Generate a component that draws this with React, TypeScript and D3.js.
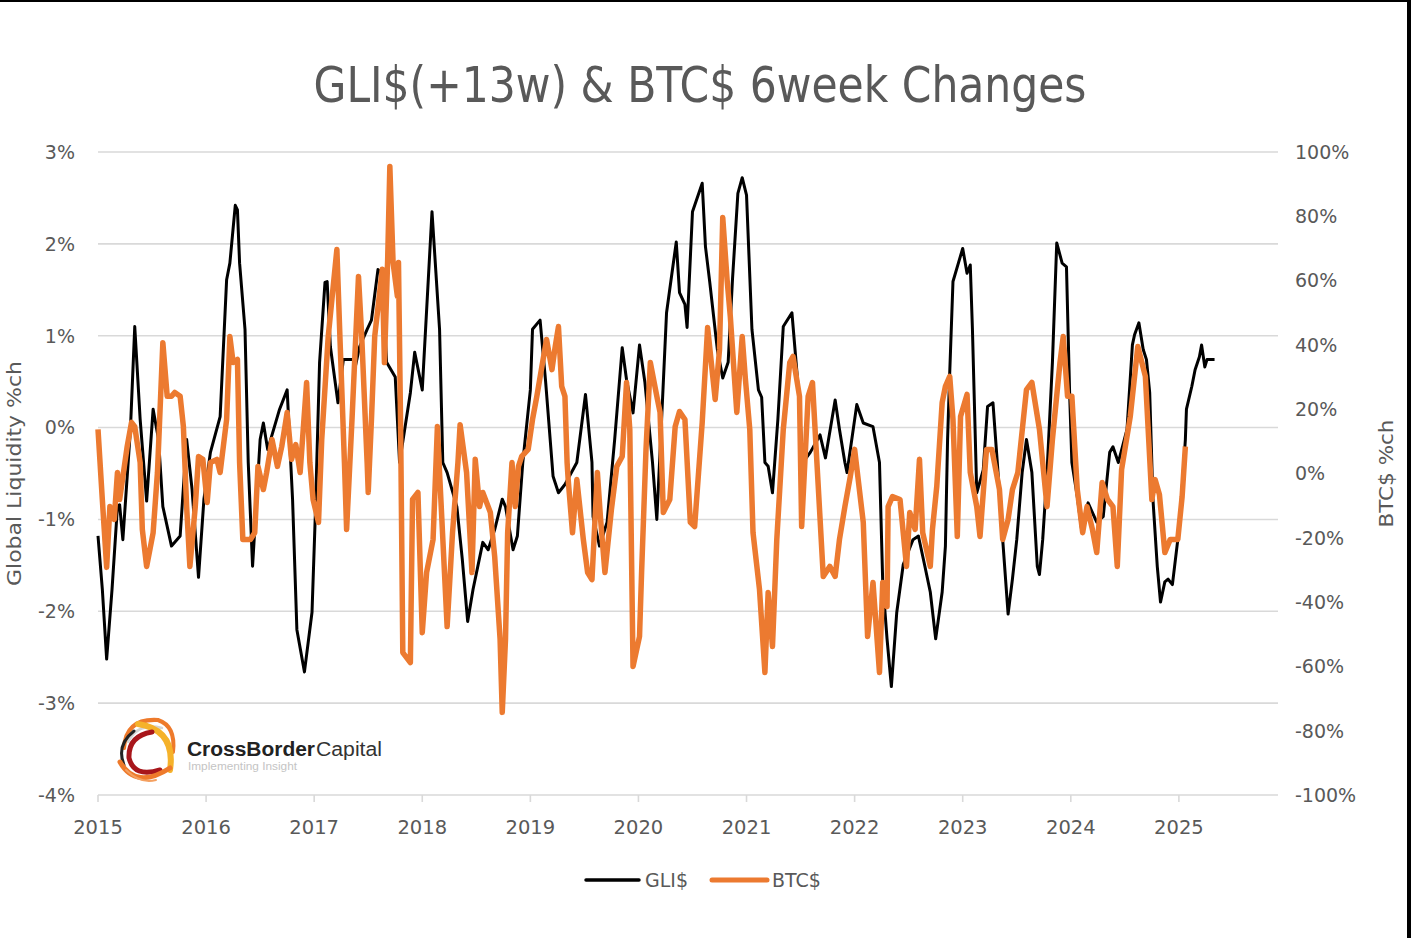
import * as d3 from 'd3'

const TITLE = 'GLI$(+13w) & BTC$ 6week Changes'
const LEFT_TITLE = 'Global Liquidity %ch'
const RIGHT_TITLE = 'BTC$ %ch'
const YEARS = [2015, 2016, 2017, 2018, 2019, 2020, 2021, 2022, 2023, 2024, 2025]
const LEFT_TICKS = [3, 2, 1, 0, -1, -2, -3, -4]
const RIGHT_TICKS = [100, 80, 60, 40, 20, 0, -20, -40, -60, -80, -100]

// GLI$ (+13w) 6-week % change, decimal year / value
const gliDates = [
  2015.00, 2015.04, 2015.08, 2015.13, 2015.18, 2015.20, 2015.23, 2015.30, 2015.34, 2015.39,
  2015.45, 2015.51, 2015.56, 2015.60, 2015.68, 2015.76, 2015.82, 2015.87, 2015.93, 2015.98,
  2016.04, 2016.13, 2016.19, 2016.22, 2016.27, 2016.29, 2016.31, 2016.36, 2016.39, 2016.43,
  2016.50, 2016.53, 2016.57, 2016.68, 2016.75, 2016.80, 2016.84, 2016.91, 2016.98, 2017.01,
  2017.05, 2017.10, 2017.12, 2017.15, 2017.22, 2017.27, 2017.36, 2017.38, 2017.42, 2017.49,
  2017.53, 2017.59, 2017.63, 2017.67, 2017.75, 2017.79, 2017.89, 2017.93, 2018.00, 2018.09,
  2018.16, 2018.19, 2018.23, 2018.32, 2018.37, 2018.42, 2018.47, 2018.56, 2018.61, 2018.67,
  2018.74, 2018.77, 2018.84, 2018.88, 2018.93, 2019.00, 2019.02, 2019.09, 2019.14, 2019.20,
  2019.21, 2019.26, 2019.32, 2019.43, 2019.51, 2019.57, 2019.58, 2019.64, 2019.71, 2019.78,
  2019.85, 2019.89, 2019.95, 2020.01, 2020.06, 2020.13, 2020.17, 2020.21, 2020.26, 2020.31,
  2020.35, 2020.38, 2020.43, 2020.45, 2020.50, 2020.59, 2020.62, 2020.66, 2020.73, 2020.78,
  2020.83, 2020.87, 2020.92, 2020.96, 2021.00, 2021.05, 2021.11, 2021.14, 2021.17, 2021.20,
  2021.24, 2021.29, 2021.34, 2021.42, 2021.48, 2021.52, 2021.59, 2021.68, 2021.73, 2021.82,
  2021.86, 2021.91, 2021.93, 2022.02, 2022.08, 2022.17, 2022.23, 2022.26, 2022.30, 2022.34,
  2022.39, 2022.45, 2022.54, 2022.59, 2022.65, 2022.70, 2022.75, 2022.81, 2022.84, 2022.86,
  2022.88, 2022.91, 2022.96, 2023.00, 2023.04, 2023.07, 2023.09, 2023.13, 2023.19, 2023.23,
  2023.28, 2023.32, 2023.37, 2023.42, 2023.46, 2023.50, 2023.55, 2023.59, 2023.64, 2023.69,
  2023.71, 2023.74, 2023.78, 2023.83, 2023.87, 2023.92, 2023.96, 2023.99, 2024.01, 2024.06,
  2024.10, 2024.16, 2024.24, 2024.30, 2024.36, 2024.39, 2024.44, 2024.52, 2024.57, 2024.59,
  2024.63, 2024.67, 2024.70, 2024.73, 2024.76, 2024.80, 2024.83, 2024.87, 2024.90, 2024.94,
  2024.99, 2025.03, 2025.06, 2025.07, 2025.12, 2025.15, 2025.19, 2025.21, 2025.24, 2025.26,
  2025.33,
]
const gliValues = [
  -1.18, -1.76, -2.52, -1.76, -0.86, -0.84, -1.22, -0.02, 1.10, 0.09,
  -0.80, 0.20, -0.13, -0.86, -1.29, -1.18, -0.13, -0.67, -1.63, -0.78,
  -0.27, 0.12, 1.61, 1.79, 2.42, 2.37, 1.79, 1.07, -0.38, -1.51,
  -0.13, 0.05, -0.24, 0.20, 0.41, -0.78, -2.20, -2.66, -2.01, -0.97,
  0.71, 1.58, 1.59, 0.88, 0.27, 0.74, 0.74, 0.66, 0.88, 1.07,
  1.17, 1.72, 1.68, 0.71, 0.55, -0.38, 0.38, 0.82, 0.41, 2.35,
  1.07, -0.38, -0.49, -0.86, -1.43, -2.11, -1.76, -1.25, -1.33, -1.11,
  -0.78, -0.86, -1.33, -1.18, -0.38, 0.41, 1.07, 1.17, 0.52, -0.38,
  -0.53, -0.71, -0.62, -0.38, 0.36, -0.38, -0.97, -1.29, -1.03, -0.13,
  0.87, 0.52, 0.16, 0.90, 0.49, -0.38, -1.00, -0.02, 1.25, 1.68,
  2.02, 1.47, 1.34, 1.09, 2.35, 2.66, 1.97, 1.58, 0.85, 0.54,
  0.71, 1.61, 2.55, 2.72, 2.53, 1.07, 0.41, 0.33, -0.38, -0.42,
  -0.71, 0.09, 1.10, 1.25, 0.41, -0.38, -0.27, -0.08, -0.33, 0.30,
  -0.02, -0.38, -0.49, 0.25, 0.05, 0.01, -0.38, -1.68, -2.30, -2.82,
  -2.01, -1.49, -1.22, -1.18, -1.51, -1.79, -2.30, -1.79, -1.29, -0.13,
  0.60, 1.59, 1.79, 1.95, 1.68, 1.77, 1.07, -0.71, -0.46, 0.23,
  0.27, -0.38, -1.22, -2.03, -1.65, -1.22, -0.49, -0.13, -0.49, -1.51,
  -1.60, -1.22, -0.49, 0.71, 2.01, 1.79, 1.75, 0.34, -0.38, -0.75,
  -1.11, -0.82, -1.03, -0.97, -0.27, -0.21, -0.38, -0.02, 0.90, 1.01,
  1.14, 0.85, 0.74, 0.38, -0.78, -1.51, -1.90, -1.68, -1.65, -1.71,
  -1.22, -0.67, -0.13, 0.20, 0.45, 0.63, 0.77, 0.90, 0.66, 0.74,
  0.74,
]

// BTC$ 6-week % change, decimal year / value
const btcDates = [
  2015.00, 2015.04, 2015.08, 2015.11, 2015.15, 2015.18, 2015.20, 2015.27, 2015.31, 2015.34,
  2015.39, 2015.41, 2015.45, 2015.51, 2015.55, 2015.60, 2015.64, 2015.68, 2015.71, 2015.76,
  2015.79, 2015.82, 2015.85, 2015.90, 2015.93, 2015.97, 2016.01, 2016.04, 2016.10, 2016.13,
  2016.19, 2016.22, 2016.25, 2016.29, 2016.31, 2016.34, 2016.41, 2016.45, 2016.48, 2016.53,
  2016.56, 2016.61, 2016.66, 2016.70, 2016.75, 2016.79, 2016.83, 2016.87, 2016.93, 2016.96,
  2016.99, 2017.04, 2017.07, 2017.13, 2017.21, 2017.24, 2017.28, 2017.30, 2017.35, 2017.41,
  2017.44, 2017.49, 2017.50, 2017.53, 2017.56, 2017.63, 2017.65, 2017.68, 2017.70, 2017.73,
  2017.77, 2017.78, 2017.80, 2017.82, 2017.89, 2017.91, 2017.96, 2018.00, 2018.04, 2018.10,
  2018.14, 2018.16, 2018.23, 2018.28, 2018.33, 2018.35, 2018.41, 2018.46, 2018.49, 2018.53,
  2018.56, 2018.63, 2018.67, 2018.72, 2018.74, 2018.77, 2018.79, 2018.83, 2018.86, 2018.89,
  2018.92, 2018.98, 2019.02, 2019.06, 2019.11, 2019.15, 2019.20, 2019.23, 2019.26, 2019.29,
  2019.32, 2019.34, 2019.35, 2019.39, 2019.43, 2019.49, 2019.53, 2019.57, 2019.62, 2019.65,
  2019.69, 2019.75, 2019.80, 2019.85, 2019.89, 2019.92, 2019.95, 2020.01, 2020.03, 2020.07,
  2020.11, 2020.17, 2020.20, 2020.23, 2020.29, 2020.34, 2020.38, 2020.43, 2020.48, 2020.52,
  2020.59, 2020.64, 2020.71, 2020.75, 2020.78, 2020.82, 2020.85, 2020.91, 2020.96, 2020.99,
  2021.03, 2021.06, 2021.12, 2021.17, 2021.20, 2021.24, 2021.28, 2021.34, 2021.40, 2021.43,
  2021.49, 2021.51, 2021.57, 2021.61, 2021.66, 2021.71, 2021.77, 2021.82, 2021.86, 2021.91,
  2021.96, 2022.00, 2022.08, 2022.12, 2022.17, 2022.23, 2022.26, 2022.30, 2022.31, 2022.35,
  2022.42, 2022.48, 2022.51, 2022.56, 2022.60, 2022.63, 2022.70, 2022.72, 2022.76, 2022.81,
  2022.84, 2022.88, 2022.91, 2022.95, 2022.98, 2023.04, 2023.07, 2023.13, 2023.16, 2023.22,
  2023.27, 2023.34, 2023.37, 2023.42, 2023.46, 2023.51, 2023.59, 2023.64, 2023.71, 2023.78,
  2023.83, 2023.90, 2023.93, 2023.97, 2024.01, 2024.06, 2024.11, 2024.15, 2024.20, 2024.24,
  2024.29, 2024.34, 2024.39, 2024.43, 2024.47, 2024.55, 2024.62, 2024.69, 2024.75, 2024.78,
  2024.82, 2024.87, 2024.92, 2024.99, 2025.03, 2025.06,
]
const btcValues = [
  13.7, -8.1, -29.2, -10.3, -14.3, 0.3, -8.1, 8.4, 15.9, 14.6,
  3.4, -17.4, -28.9, -18.4, 0.3, 40.7, 24.0, 24.0, 25.2, 24.0,
  14.6, -10.3, -28.9, -10.3, 5.3, 4.4, -9.0, 3.4, 4.4, 0.3,
  16.8, 42.6, 34.5, 35.5, 3.4, -20.5, -20.5, -18.4, 2.2, -5.0,
  0.3, 10.6, 2.2, 8.4, 19.0, 4.4, 9.0, 0.3, 28.3, 3.4,
  -8.1, -15.2, 10.6, 42.6, 69.7, 40.7, 3.4, -17.4, 16.8, 61.3,
  42.6, 3.4, -5.9, 16.8, 42.6, 63.5, 34.5, 66.6, 95.5, 65.6,
  55.1, 65.6, 13.7, -55.7, -58.8, -8.1, -5.9, -49.5, -30.8, -20.5,
  14.6, 0.3, -47.6, -18.4, 3.4, 15.2, 0.3, -30.8, 4.4, -10.3,
  -5.9, -12.1, -25.8, -51.6, -74.3, -51.6, -18.4, 3.4, -10.3, 2.2,
  5.3, 7.5, 16.8, 24.0, 33.9, 41.7, 32.3, 39.5, 45.7, 27.1,
  24.0, 3.4, -1.9, -18.4, -1.9, -20.5, -30.8, -33.0, 0.3, -14.3,
  -30.8, -11.2, 2.2, 5.3, 28.3, 13.7, -60.0, -50.7, -29.9, 7.5,
  34.5, 24.0, 19.0, -12.1, -8.1, 14.6, 19.3, 16.8, -15.2, -16.5,
  15.9, 45.4, 23.0, 38.6, 79.6, 60.3, 48.8, 19.0, 42.6, 29.2,
  13.7, -18.4, -36.1, -61.9, -37.0, -53.8, -20.5, 13.7, 34.5, 36.4,
  24.0, -16.5, 24.0, 28.3, -1.9, -32.0, -28.9, -32.0, -20.5, -10.3,
  -0.9, 7.5, -15.2, -50.7, -33.9, -61.9, -33.9, -41.4, -10.3, -7.2,
  -8.1, -28.9, -12.1, -17.4, 4.4, -18.4, -28.9, -17.4, -4.0, 22.1,
  27.1, 30.2, 16.8, -19.6, 17.7, 24.6, 0.3, -10.3, -19.6, 7.5,
  7.5, -5.0, -20.5, -14.3, -5.0, 0.3, 26.1, 28.3, 13.7, -10.3,
  10.6, 34.5, 42.6, 24.0, 24.0, -5.0, -18.4, -10.3, -17.4, -24.6,
  -2.8, -8.1, -10.3, -28.9, 1.2, 17.7, 39.5, 30.2, -8.1, -1.9,
  -6.5, -24.6, -20.5, -20.5, -7.2, 8.4,
]

const W = 1411
const H = 938
const PLOT = { left: 98, right: 1278, top: 152, bottom: 795 }
const GREY = '#595959'
const GRID = '#d9d9d9'
const ORANGE = '#ec7a30'
const FONT = '"DejaVu Sans", Verdana, sans-serif'
const LOGO_FONT = '"Liberation Sans", Arial, sans-serif'

/* CrossBorder Capital mark: a few overlapping loops */
const Logo = () => (
  <g>
    <g fill="none" strokeLinecap="round">
      <path d="M 128 742 Q 138 722 162 728" stroke="#d4d4d4" strokeWidth={2.5} />
      <path d="M 124 748 Q 126 718 158 720 Q 176 726 173 752" stroke="#ee7a2b" strokeWidth={4} />
      <path d="M 138 724 Q 176 730 170 770" stroke="#f5b22a" strokeWidth={6} />
      <path d="M 134 731 Q 116 745 124 765" stroke="#222" strokeWidth={3} />
      <path d="M 152 732 Q 128 736 129 758 Q 134 778 160 770" stroke="#a8161b" strokeWidth={5} />
      <path d="M 120 762 Q 136 790 170 768" stroke="#ee7a2b" strokeWidth={5} />
      <path d="M 126 770 Q 140 784 156 780" stroke="#f4a060" strokeWidth={2} />
    </g>
    <text x={187} y={756} fontFamily={LOGO_FONT} fontSize={20} fontWeight="bold" fill="#222"
      textLength={128} lengthAdjust="spacingAndGlyphs">CrossBorder</text>
    <text x={316} y={756} fontFamily={LOGO_FONT} fontSize={20} fill="#333"
      textLength={66} lengthAdjust="spacingAndGlyphs">Capital</text>
    <text x={188} y={770} fontFamily={LOGO_FONT} fontSize={10.5} fill="#c4c4c4"
      textLength={109} lengthAdjust="spacingAndGlyphs">Implementing Insight</text>
  </g>
)

export default function App() {
  const x = d3.scaleLinear().domain([2015, 2025.917]).range([PLOT.left, PLOT.right])
  const yL = d3.scaleLinear().domain([-4, 3]).range([PLOT.bottom, PLOT.top])
  const yR = d3.scaleLinear().domain([-100, 100]).range([PLOT.bottom, PLOT.top])

  const gliPath = d3.line<number>()
    .x((_, i) => x(gliDates[i]))
    .y((d) => yL(d))(gliValues) as string
  const btcPath = d3.line<number>()
    .x((_, i) => x(btcDates[i]))
    .y((d) => yR(d))(btcValues) as string

  const midY = (PLOT.top + PLOT.bottom) / 2

  return (
    <svg width={W} height={H} style={{ position: 'absolute', left: 0, top: 0, background: '#fff' }}>
      <rect x={0} y={0} width={W} height={H} fill="#fff" />

      <text x={700} y={102} textAnchor="middle" fontFamily='"Liberation Sans Narrow", "DejaVu Sans Condensed", Arial, sans-serif'
        fontSize={50} fill={GREY} textLength={773} lengthAdjust="spacingAndGlyphs">{TITLE}</text>

      {/* grid */}
      {LEFT_TICKS.map((t) => (
        <line key={t} x1={PLOT.left} x2={PLOT.right} y1={yL(t)} y2={yL(t)} stroke={GRID} strokeWidth={1.6} />
      ))}
      {YEARS.map((yr) => (
        <line key={yr} x1={x(yr)} x2={x(yr)} y1={PLOT.bottom} y2={PLOT.bottom + 7} stroke={GRID} strokeWidth={1.6} />
      ))}

      {/* left axis */}
      {LEFT_TICKS.map((t) => (
        <text key={t} x={75} y={yL(t)} dy="0.36em" textAnchor="end" fontFamily={FONT} fontSize={19} fill={GREY}>
          {`${t}%`}
        </text>
      ))}
      {/* right axis */}
      {RIGHT_TICKS.map((t) => (
        <text key={t} x={1295} y={yR(t)} dy="0.36em" fontFamily={FONT} fontSize={19} fill={GREY}>
          {`${t}%`}
        </text>
      ))}
      {/* x axis */}
      {YEARS.map((yr) => (
        <text key={yr} x={x(yr)} y={827} dy="0.36em" textAnchor="middle" fontFamily={FONT} fontSize={19.5} fill={GREY}>
          {yr}
        </text>
      ))}

      <text transform={`translate(21,${midY}) rotate(-90)`} textAnchor="middle" fontFamily={FONT}
        fontSize={19} fill={GREY} textLength={225} lengthAdjust="spacingAndGlyphs">{LEFT_TITLE}</text>
      <text transform={`translate(1393,${midY}) rotate(-90)`} textAnchor="middle" fontFamily={FONT}
        fontSize={19} fill={GREY} textLength={108} lengthAdjust="spacingAndGlyphs">{RIGHT_TITLE}</text>

      <Logo />

      <path d={gliPath} fill="none" stroke="#000" strokeWidth={3} strokeLinejoin="round" />
      <path d={btcPath} fill="none" stroke={ORANGE} strokeWidth={5.5} strokeLinejoin="round" />

      {/* legend */}
      <line x1={586} x2={639} y1={880} y2={880} stroke="#000" strokeWidth={3.5} strokeLinecap="round" />
      <text x={645} y={880} dy="0.36em" fontFamily={FONT} fontSize={19} fill={GREY}>GLI$</text>
      <line x1={712} x2={767} y1={880} y2={880} stroke={ORANGE} strokeWidth={5} strokeLinecap="round" />
      <text x={772} y={880} dy="0.36em" fontFamily={FONT} fontSize={19} fill={GREY}>BTC$</text>

      {/* screenshot frame */}
      <rect x={0} y={0} width={W} height={2} fill="#000" />
      <rect x={1407} y={0} width={4} height={H} fill="#000" />
    </svg>
  )
}
